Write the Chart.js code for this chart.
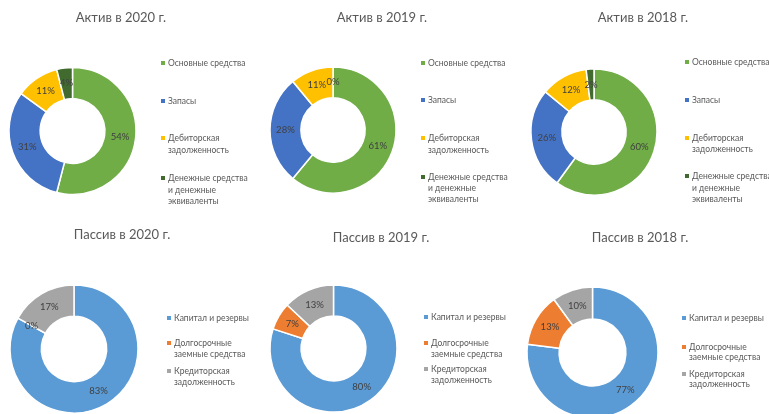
<!DOCTYPE html>
<html>
<head>
<meta charset="utf-8">
<script src="https://cdn.jsdelivr.net/npm/chart.js@4.4.1/dist/chart.umd.min.js"></script>
<style>
  html, body { margin: 0; padding: 0; background: #ffffff; overflow: hidden; width: 769px; height: 414px; }
  canvas { position: absolute; }
</style>
</head>
<body>
<canvas id="c0"></canvas>
<canvas id="c1"></canvas>
<canvas id="c2"></canvas>
<canvas id="c3"></canvas>
<canvas id="c4"></canvas>
<canvas id="c5"></canvas>
<script>
// ---- Data ----
const assetCategories = ["Основные средства", "Запасы", "Дебиторская задолженность", "Денежные средства и денежные эквиваленты"];
const assetLegendLines = [["Основные средства"], ["Запасы"], ["Дебиторская", "задолженность"], ["Денежные средства", "и денежные", "эквиваленты"]];
const assetColors = ["#70AD47", "#4472C4", "#FFC000", "#416B2E"];
const asset2020 = [54, 31, 11, 4];
const asset2019 = [61, 28, 11, 0];
const asset2018 = [60, 26, 12, 2];

const liabCategories = ["Капитал и резервы", "Долгосрочные заемные средства", "Кредиторская задолженность"];
const liabLegendLines = [["Капитал и резервы"], ["Долгосрочные", "заемные средства"], ["Кредиторская", "задолженность"]];
const liabColors = ["#5B9BD5", "#ED7D31", "#A5A5A5"];
const liab2020 = [83, 0, 17];
const liab2019 = [80, 7, 13];
const liab2018 = [77, 13, 10];

const titles = ["Актив в 2020 г.", "Актив в 2019 г.", "Актив в 2018 г.", "Пассив в 2020 г.", "Пассив в 2019 г.", "Пассив в 2018 г."];

// ---- Layout (page coordinates) ----
const BW = 1.5;
const panels = [
  { cell: [0, 0, 255, 207],   cx: 72.5,  cy: 131,   r: 63.5, title: [121, 18], mx: 163, ly: [[63], [101], [138, 150], [178, 190, 201]], data: asset2020, cats: assetCategories, lines: assetLegendLines, colors: assetColors },
  { cell: [255, 0, 255, 207], cx: 333,   cy: 130,   r: 63,   title: [382, 18], mx: 423, ly: [[63], [100], [138, 150], [177, 188, 199]], data: asset2019, cats: assetCategories, lines: assetLegendLines, colors: assetColors },
  { cell: [510, 0, 259, 207], cx: 594,   cy: 132,   r: 63,   title: [643, 18], mx: 687, ly: [[62], [100], [138, 149], [176, 188, 199]], data: asset2018, cats: assetCategories, lines: assetLegendLines, colors: assetColors },
  { cell: [0, 207, 255, 220], cx: 74,    cy: 349,   r: 64,   title: [122, 235], mx: 169, ly: [[318], [343, 354], [371, 382]], data: liab2020, cats: liabCategories, lines: liabLegendLines, colors: liabColors },
  { cell: [255, 207, 255, 220], cx: 333.5, cy: 348.5, r: 63.5, title: [381, 238], mx: 426, ly: [[317], [343, 354], [369, 380]], data: liab2019, cats: liabCategories, lines: liabLegendLines, colors: liabColors },
  { cell: [510, 207, 259, 220], cx: 592.5, cy: 352.5, r: 65.5, title: [640, 238], mx: 684, ly: [[318], [347, 357], [374, 384]], data: liab2018, cats: liabCategories, lines: liabLegendLines, colors: liabColors }
];

const FONT = "Lato, 'Liberation Sans', sans-serif";

const overlayPlugin = {
  id: 'overlay',
  afterDatasetsDraw(chart, args, opts) {
    const p = opts.panel;
    const ctx = chart.ctx;
    const ox = p.cell[0], oy = p.cell[1];
    ctx.save();
    // data labels
    const meta = chart.getDatasetMeta(0);
    ctx.font = "9.5px " + FONT;
    ctx.fillStyle = "#404040";
    ctx.textAlign = "center";
    ctx.textBaseline = "middle";
    meta.data.forEach((arc, i) => {
      const pos = arc.tooltipPosition();
      ctx.fillText(chart.data.datasets[0].data[i] + "%", pos.x, pos.y);
    });
    // title
    ctx.font = "13px " + FONT;
    ctx.fillStyle = "#595959";
    ctx.fillText(opts.title, p.title[0] - ox, p.title[1] - oy);
    // legend
    ctx.font = "8.5px " + FONT;
    ctx.textAlign = "left";
    p.lines.forEach((lines, i) => {
      ctx.fillStyle = p.colors[i];
      ctx.fillRect(p.mx - ox - 2, p.ly[i][0] - oy - 2, 4, 4);
      ctx.fillStyle = "#595959";
      lines.forEach((t, k) => {
        ctx.fillText(t, p.mx - ox + 5, p.ly[i][k] - oy);
      });
    });
    ctx.restore();
  }
};

panels.forEach((p, idx) => {
  const cv = document.getElementById('c' + idx);
  cv.style.left = p.cell[0] + 'px';
  cv.style.top = p.cell[1] + 'px';
  cv.width = p.cell[2];
  cv.height = p.cell[3];
  const lx = p.cx - p.r - p.cell[0] - BW / 2;
  const ty = p.cy - p.r - p.cell[1] - BW / 2;
  const size = 2 * p.r + BW;
  new Chart(cv, {
    type: 'doughnut',
    data: {
      labels: p.cats,
      datasets: [{
        data: p.data,
        backgroundColor: p.colors,
        borderColor: '#ffffff',
        borderWidth: BW,
        hoverOffset: 0
      }]
    },
    options: {
      responsive: false,
      animation: false,
      devicePixelRatio: 1,
      cutout: '51%',
      layout: {
        padding: { left: lx, top: ty, right: p.cell[2] - lx - size, bottom: p.cell[3] - ty - size }
      },
      plugins: {
        legend: { display: false },
        title: { display: false },
        tooltip: { enabled: false },
        overlay: { panel: p, title: titles[idx] }
      }
    },
    plugins: [overlayPlugin]
  });
});
</script>
</body>
</html>
